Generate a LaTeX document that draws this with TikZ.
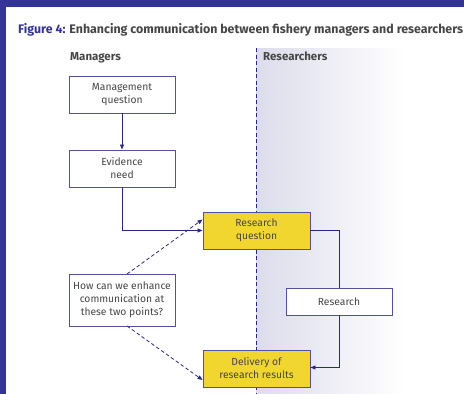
\documentclass[tikz,border=0pt]{standalone}
\usepackage{fontspec}
\setmainfont{Fira Sans}
\usetikzlibrary{arrows.meta}
\definecolor{frame}{RGB}{52,52,152}
\definecolor{boxline}{RGB}{80,80,165}
\definecolor{arr}{RGB}{40,40,140}
\definecolor{txt}{RGB}{70,70,70}
\definecolor{ybox}{RGB}{242,214,48}
\definecolor{shade}{RGB}{220,220,236}
\tikzset{
  box/.style={draw=boxline, line width=0.9pt, fill=white, text=txt, align=center, font=\fontsize{10.3}{13}\selectfont, inner sep=0pt},
  ybox/.style={box, fill=ybox},
  conn/.style={draw=arr, line width=0.8pt},
  tip/.style={-{Triangle[length=5pt,width=4pt]}},
  dconn/.style={conn, dash pattern=on 3.5pt off 2.5pt},
  hdr/.style={font=\bfseries\fontsize{11.5}{13}\selectfont, text=txt, anchor=base west, inner sep=0pt}
}
\begin{document}
\begin{tikzpicture}[x=1pt,y=-1pt]
\useasboundingbox (0,0) rectangle (464,394);
\fill[white] (0,0) rectangle (464,394);
\fill[frame] (0,0) rectangle (464,7);
\fill[frame] (0,0) rectangle (6,394);
% shaded researchers region
\shade[left color=shade, right color=white] (256,48) rectangle (404,394);
\draw[draw=arr, line width=0.8pt, dash pattern=on 4pt off 2.5pt] (256,48) -- (256,394);
% title
\node[anchor=base west, inner sep=0pt, font=\bfseries\fontsize{12.4}{14}\selectfont] (title) at (18,33) {\textcolor{frame}{Figure 4:} \textcolor{txt}{Enhancing communication between fishery managers and researchers}};
\node[hdr] (mgr) at (70,60) {Managers};
\node[hdr] (res) at (263,60) {Researchers};
% boxes
\node[box, minimum width=106pt, minimum height=37pt] (mq) at (122,94.5) {Management\\question};
\node[box, minimum width=106pt, minimum height=37pt] (en) at (122,168.5) {Evidence\\need};
\node[ybox, minimum width=107pt, minimum height=37pt] (rq) at (256.5,230.5) {Research\\question};
\node[box, minimum width=106pt, minimum height=52pt] (hq) at (122,300) {How can we enhance\\communication at\\these two points?};
\node[ybox, minimum width=107pt, minimum height=37pt] (dr) at (256.5,368.5) {Delivery of\\research results};
\node[box, minimum width=106pt, minimum height=27pt] (rs) at (339,301.5) {Research};
% connectors
\draw[conn, tip] (mq.south) -- (en.north);
\draw[conn, tip] (en.south) |- (rq.west);
\draw[conn] (rq.east) -| (rs.north);
\draw[conn, tip] (rs.south) |- ([yshift=1pt]dr.east);
\coordinate (hqt) at (127,274);
\coordinate (hqb) at (127,326);
\draw[dconn, tip] (hqt) -- ([yshift=11pt]rq.west);
\draw[dconn, tip] (hqb) -- ([yshift=-11.5pt]dr.west);
\end{tikzpicture}
\end{document}
